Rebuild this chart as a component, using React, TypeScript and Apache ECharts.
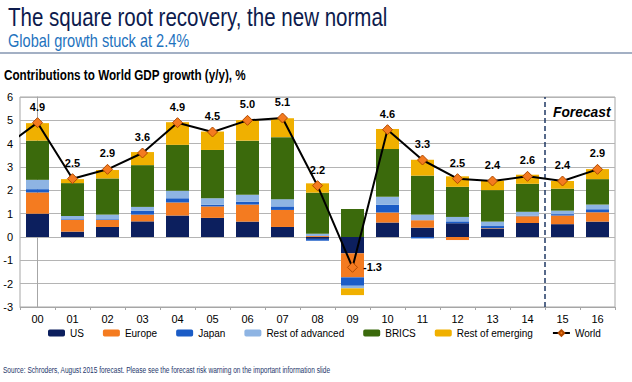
import React, { useEffect, useRef } from "react";
import * as echarts from "echarts";

const categories = ["00", "01", "02", "03", "04", "05", "06", "07", "08", "09", "10", "11", "12", "13", "14", "15", "16"];
const usValues = [1.0, 0.23, 0.43, 0.67, 0.92, 0.82, 0.66, 0.43, -0.08, -0.7, 0.62, 0.4, 0.59, 0.36, 0.6, 0.55, 0.66];
const europeValues = [0.91, 0.5, 0.3, 0.29, 0.56, 0.49, 0.73, 0.73, 0.04, -1.03, 0.43, 0.32, -0.13, 0.02, 0.29, 0.37, 0.4];
const japanValues = [0.14, 0.03, 0.03, 0.16, 0.18, 0.07, 0.12, 0.15, -0.08, -0.36, 0.33, -0.06, 0.08, 0.09, 0.02, 0.06, 0.13];
const restAdvancedValues = [0.4, 0.14, 0.2, 0.17, 0.32, 0.28, 0.3, 0.31, 0.1, -0.11, 0.34, 0.24, 0.19, 0.19, 0.17, 0.15, 0.2];
const bricsValues = [1.68, 1.41, 1.55, 1.79, 1.97, 2.07, 2.32, 2.66, 1.76, 1.2, 2.05, 1.67, 1.29, 1.35, 1.2, 0.94, 1.09];
const restEmergingValues = [0.75, 0.17, 0.36, 0.56, 0.97, 0.79, 0.88, 0.81, 0.4, -0.29, 0.86, 0.68, 0.45, 0.41, 0.39, 0.33, 0.43];
const worldValues = [4.9, 2.5, 2.9, 3.6, 4.9, 4.5, 5.0, 5.1, 2.2, -1.3, 4.6, 3.3, 2.5, 2.4, 2.6, 2.4, 2.9];
const world1999 = 3.8;
const forecastStart = 14.5;
const yTicks = { min: -3, max: 6, interval: 1 };

const FONT = "'Liberation Sans', Arial, sans-serif";

export default function App() {
  const ref = useRef<HTMLDivElement>(null);
  useEffect(() => {
    document.body.style.margin = "0";
    if (!ref.current) return;
    const chart = echarts.init(ref.current, undefined, { renderer: "svg" });

    const barSeries = (name: string, data: number[], color: string) => ({
      name,
      type: "bar",
      stack: "total",
      xAxisIndex: 0,
      yAxisIndex: 0,
      barWidth: 23,
      data,
      itemStyle: { color },
    });

    const worldData: any[] = [
      { value: [-1, world1999], symbol: "none", label: { show: false } },
      ...worldValues.map((v, i) => ({
        value: [i, v],
        label: i === 9 ? { position: "right", distance: 5 } : undefined,
      })),
    ];

    const scaledText = (text: string, x: number, y: number, fontSize: number, scaleX: number, fill: string, extra: any = {}) => ({
      type: "text",
      x,
      y,
      scaleX,
      style: { text, fontSize, fill, fontFamily: FONT, verticalAlign: "top", align: "left", ...extra },
    });

    chart.setOption({
      animation: false,
      textStyle: { fontFamily: FONT },
      grid: { left: 20, right: 17, top: 97, bottom: 75, show: true, borderColor: "#a6a6a6", borderWidth: 1 },
      legend: {
        left: 43,
        top: 323,
        itemWidth: 17,
        itemHeight: 7,
        itemGap: 19,
        textStyle: { fontSize: 10, color: "#000", fontFamily: FONT },
        data: ["US", "Europe", "Japan", "Rest of advanced", "BRICS", "Rest of emerging", "World"],
      },
      xAxis: [
        {
          type: "category",
          data: categories,
          position: "bottom",
          axisLine: { show: false },
          axisTick: { show: false },
          axisLabel: { fontSize: 11, color: "#000", margin: 6, fontFamily: FONT },
        },
        {
          type: "category",
          data: categories,
          position: "bottom",
          axisLine: { show: true, onZero: true, lineStyle: { color: "#a6a6a6" } },
          axisTick: { show: true, interval: 0, length: 3, lineStyle: { color: "#a6a6a6" } },
          axisLabel: { show: false },
        },
        {
          type: "value",
          min: -0.5,
          max: 16.5,
          show: false,
        },
      ],
      yAxis: {
        type: "value",
        min: yTicks.min,
        max: yTicks.max,
        interval: yTicks.interval,
        axisLine: { show: true, lineStyle: { color: "#a6a6a6" } },
        axisTick: { show: false },
        axisLabel: { fontSize: 11, color: "#000", margin: 7, fontFamily: FONT },
        splitLine: { lineStyle: { color: "#b4b4b4" } },
      },
      series: [
        barSeries("US", usValues, "#0c1f5e"),
        barSeries("Europe", europeValues, "#f47b20"),
        barSeries("Japan", japanValues, "#1b5cc6"),
        barSeries("Rest of advanced", restAdvancedValues, "#8eb4e3"),
        barSeries("BRICS", bricsValues, "#3b6a0c"),
        barSeries("Rest of emerging", restEmergingValues, "#f0b000"),
        {
          name: "World",
          type: "line",
          xAxisIndex: 2,
          yAxisIndex: 0,
          data: worldData,
          clip: true,
          symbol: "diamond",
          symbolSize: 10,
          lineStyle: { color: "#000", width: 2 },
          itemStyle: { color: "#f47b20", borderColor: "#b14a00", borderWidth: 1 },
          label: {
            show: true,
            position: "top",
            distance: 5,
            fontSize: 11,
            fontWeight: "bold",
            color: "#000",
            fontFamily: FONT,
            formatter: (p: any) => Number(p.value[1]).toFixed(1),
          },
          z: 5,
          markLine: {
            silent: true,
            symbol: "none",
            label: { show: false },
            lineStyle: { type: [5, 3], color: "#1f3864", width: 1.5 },
            data: [{ xAxis: forecastStart }],
          },
        },
      ],
      graphic: [
        scaledText("The square root recovery, the new normal", 8, 4, 26, 0.79, "#0d1b4d"),
        scaledText("Global growth stuck at 2.4%", 8, 31, 18, 0.81, "#1e73be"),
        {
          type: "line",
          shape: { x1: 0, y1: 53, x2: 632, y2: 53 },
          style: { stroke: "#8496b0", lineWidth: 1.5 },
        },
        scaledText("Contributions to World GDP growth (y/y), %", 4, 67, 15, 0.78, "#000", { fontWeight: "bold" }),
        scaledText("Forecast", 553, 104, 15, 0.92, "#000", { fontWeight: "bold", fontStyle: "italic" }),
        scaledText(
          "Source: Schroders, August 2015 forecast. Please see the forecast risk warning on the important information slide",
          3,
          366,
          9,
          0.73,
          "#24366b"
        ),
      ],
    });
    return () => chart.dispose();
  }, []);
  return <div ref={ref} style={{ width: 632, height: 382 }} />;
}
